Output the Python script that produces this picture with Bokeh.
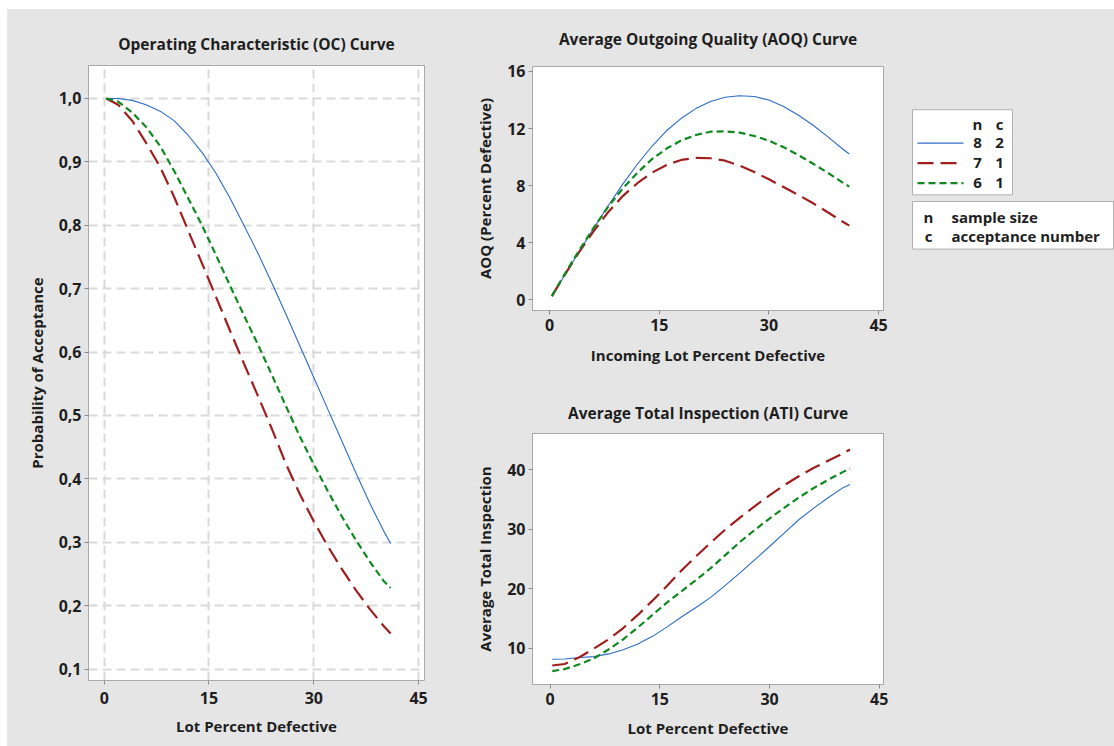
from bokeh.plotting import figure
from bokeh.models import FixedTicker, Range1d, CustomJSTickFormatter
from bokeh.layouts import row, column
from bokeh.embed import file_html
from bokeh.resources import INLINE
from bokeh.core.properties import value

# ---------------- data ----------------
lot_pct_defective = [0.3, 2, 4, 6, 8, 10, 12, 14, 16, 18, 20, 22, 24, 26, 28, 30,
                     32, 34, 36, 38, 40, 41]

plan_n = [8, 7, 6]
plan_c = [2, 1, 1]

oc_n8_c2 = [1.0, 1.0, 0.997, 0.99, 0.98, 0.965, 0.942, 0.915, 0.882, 0.843, 0.8,
            0.756, 0.709, 0.66, 0.61, 0.56, 0.51, 0.46, 0.41, 0.362, 0.318, 0.298]
oc_n7_c1 = [1.0, 0.99, 0.965, 0.93, 0.892, 0.845, 0.792, 0.74, 0.687, 0.634, 0.582,
            0.531, 0.479, 0.424, 0.376, 0.333, 0.294, 0.258, 0.225, 0.195, 0.168, 0.156]
oc_n6_c1 = [1.0, 0.995, 0.978, 0.955, 0.925, 0.886, 0.843, 0.8, 0.753, 0.705, 0.658,
            0.612, 0.564, 0.515, 0.467, 0.423, 0.381, 0.341, 0.304, 0.27, 0.239, 0.228]

aoq_n8_c2 = [0.25, 1.68, 3.35, 4.99, 6.59, 8.11, 9.5, 10.76, 11.85, 12.72, 13.4,
             13.9, 14.2, 14.3, 14.25, 14.0, 13.55, 12.95, 12.25, 11.45, 10.6, 10.22]
aoq_n7_c1 = [0.26, 1.7, 3.32, 4.8, 6.14, 7.27, 8.17, 8.91, 9.45, 9.8, 9.95,
             9.92, 9.75, 9.4, 8.95, 8.45, 7.9, 7.35, 6.78, 6.15, 5.5, 5.2]
aoq_n6_c1 = [0.26, 1.75, 3.44, 5.04, 6.51, 7.8, 8.9, 9.86, 10.6, 11.17, 11.55,
             11.78, 11.8, 11.72, 11.48, 11.15, 10.7, 10.15, 9.55, 8.92, 8.25, 7.93]

ati_n8_c2 = [8.15, 8.2, 8.45, 8.6, 9.05, 9.75, 10.7, 12.0, 13.6, 15.3, 16.9,
             18.6, 20.6, 22.7, 24.9, 27.1, 29.35, 31.6, 33.5, 35.3, 36.95, 37.5]
ati_n7_c1 = [7.1, 7.35, 8.5, 9.95, 11.5, 13.4, 15.6, 18.0, 20.5, 23.1, 25.5,
             27.8, 30.0, 32.0, 33.9, 35.7, 37.4, 38.9, 40.3, 41.5, 42.7, 43.4]
ati_n6_c1 = [6.15, 6.5, 7.3, 8.3, 9.8, 11.5, 13.5, 15.6, 17.7, 19.6, 21.5,
             23.5, 25.7, 27.9, 29.9, 31.8, 33.6, 35.3, 36.9, 38.3, 39.6, 40.2]

x_ticks = [0, 15, 30, 45]
oc_ticks = [0.1, 0.2, 0.3, 0.4, 0.5, 0.6, 0.7, 0.8, 0.9, 1.0]
aoq_ticks = [0, 4, 8, 12, 16]
ati_ticks = [10, 20, 30, 40]

legend_key = [("n", "sample size"), ("c", "acceptance number")]

# ---------------- styling ----------------
BG = "#e5e5e5"
FONT = "Open Sans"
TXT = "#1e1e1e"
COLORS = ["#2B6CC4", "#A01E1E", "#0F8A1F"]
DASHES = ["solid", "16 7", "7 4"]
WIDTHS = [1.1, 2.2, 2.2]


def make_fig(w, h, xr, yr, left, right, top, bottom, title, xlabel, ylabel,
             xticks, yticks, title_standoff, x_std, x_lab_std):
    p = figure(width=w, height=h, x_range=Range1d(*xr), y_range=Range1d(*yr),
               output_backend="svg", toolbar_location=None, title=title,
               min_border_left=left, min_border_right=right,
               min_border_top=top, min_border_bottom=bottom)
    p.background_fill_color = "white"
    p.border_fill_color = BG
    p.outline_line_color = "#a8a8a8"
    p.outline_line_width = 1
    p.title.align = "center"
    p.title.text_font = FONT
    p.title.text_font_size = "15.5px"
    p.title.text_font_style = "bold"
    p.title.text_color = TXT
    p.title.standoff = title_standoff
    for ax in (p.xaxis[0], p.yaxis[0]):
        ax.axis_line_color = None
        ax.major_tick_out = 4
        ax.major_tick_in = 0
        ax.minor_tick_line_color = None
        ax.major_tick_line_color = "#8a8a8a"
        ax.major_label_text_font = FONT
        ax.major_label_text_font_size = "16px"
        ax.major_label_text_font_style = "bold"
        ax.major_label_text_color = TXT
        ax.axis_label_text_font = FONT
        ax.axis_label_text_font_size = "15px"
        ax.axis_label_text_font_style = "bold"
        ax.axis_label_text_color = TXT
    p.xaxis.ticker = FixedTicker(ticks=xticks)
    p.yaxis.ticker = FixedTicker(ticks=yticks)
    p.xaxis.axis_label = xlabel
    p.yaxis.axis_label = ylabel
    p.xaxis.major_label_standoff = x_std
    p.yaxis.major_label_standoff = 3
    p.xaxis.axis_label_standoff = x_lab_std
    p.yaxis.axis_label_standoff = 9
    p.grid.grid_line_color = None
    return p


# ---- OC curve ----
oc = make_fig(448, 737, (-2.25, 45.85), (0.082, 1.052), 81, 31, 56, 66,
              "Operating Characteristic (OC) Curve", "Lot Percent Defective",
              "Probability of Acceptance", x_ticks, oc_ticks, 22, 7, 9)
oc.yaxis.formatter = CustomJSTickFormatter(code="return tick.toFixed(1).replace('.', ',');")
oc.grid.grid_line_color = "#d9d9d9"
oc.grid.grid_line_width = 2
oc.grid.grid_line_dash = "9 5"

for ys, col, dash, lw in zip([oc_n8_c2, oc_n7_c1, oc_n6_c1], COLORS, DASHES, WIDTHS):
    oc.line(lot_pct_defective, ys, line_color=col, line_dash=dash, line_width=lw)

# ---- AOQ curve ----
aoq = make_fig(445, 371, (-2.35, 45.68), (-0.75, 16.35), 75, 17, 57, 70,
               "Average Outgoing Quality (AOQ) Curve", "Incoming Lot Percent Defective",
               "AOQ (Percent Defective)", x_ticks, aoq_ticks, 33, 4, 11)
for ys, col, dash, lw in zip([aoq_n8_c2, aoq_n7_c1, aoq_n6_c1], COLORS, DASHES, WIDTHS):
    aoq.line(lot_pct_defective, ys, line_color=col, line_dash=dash, line_width=lw)

# ---- ATI curve ----
ati = make_fig(445, 366, (-2.4, 45.58), (3.91, 46.09), 77, 17, 53, 62,
               "Average Total Inspection (ATI) Curve", "Lot Percent Defective",
               "Average Total Inspection", x_ticks, ati_ticks, 20, 4, 10)
for ys, col, dash, lw in zip([ati_n8_c2, ati_n7_c1, ati_n6_c1], COLORS, DASHES, WIDTHS):
    ati.line(lot_pct_defective, ys, line_color=col, line_dash=dash, line_width=lw)

# ---- legend panel ----
leg = figure(width=214, height=737, x_range=Range1d(0, 214), y_range=Range1d(737, 0),
             output_backend="svg", toolbar_location=None,
             x_axis_type=None, y_axis_type=None,
             min_border_left=0, min_border_right=0, min_border_top=0, min_border_bottom=0)
leg.background_fill_alpha = 0
leg.border_fill_color = BG
leg.outline_line_color = None
leg.grid.grid_line_color = None

leg.quad(left=[12], right=[112], top=[53], bottom=[155], fill_color="white",
         line_color="#b0b0b0", line_width=1)
leg.quad(left=[12], right=[213], top=[163], bottom=[220], fill_color="white",
         line_color="#b0b0b0", line_width=1)

row_y = [93, 117, 141]
leg.text(x=[77, 99], y=[70, 70], text=["n", "c"], text_font=value(FONT),
         text_font_size="15px", text_font_style="bold", text_color=TXT,
         text_align="center", text_baseline="middle")
for i in range(3):
    leg.line([17, 63], [row_y[i], row_y[i]], line_color=COLORS[i],
             line_dash=DASHES[i], line_width=WIDTHS[i] if i else 1.4)
leg.text(x=[77] * 3, y=row_y, text=[str(v) for v in plan_n], text_font=value(FONT),
         text_font_size="15px", text_font_style="bold", text_color=TXT,
         text_align="center", text_baseline="middle")
leg.text(x=[99] * 3, y=row_y, text=[str(v) for v in plan_c], text_font=value(FONT),
         text_font_size="15px", text_font_style="bold", text_color=TXT,
         text_align="center", text_baseline="middle")
leg.text(x=[28, 28], y=[181, 204], text=[k for k, _ in legend_key], text_font=value(FONT),
         text_font_size="15px", text_font_style="bold", text_color=TXT,
         text_align="center", text_baseline="middle")
leg.text(x=[51, 51], y=[181, 204], text=[d for _, d in legend_key], text_font=value(FONT),
         text_font_size="15px", text_font_style="bold", text_color=TXT,
         text_align="left", text_baseline="middle")

layout = row(oc, column(aoq, ati, spacing=0, styles={"background-color": BG}), leg,
             spacing=0, margin=(9, 0, 0, 7), styles={"background-color": BG})

open("out.html", "w").write(file_html(layout, INLINE))
